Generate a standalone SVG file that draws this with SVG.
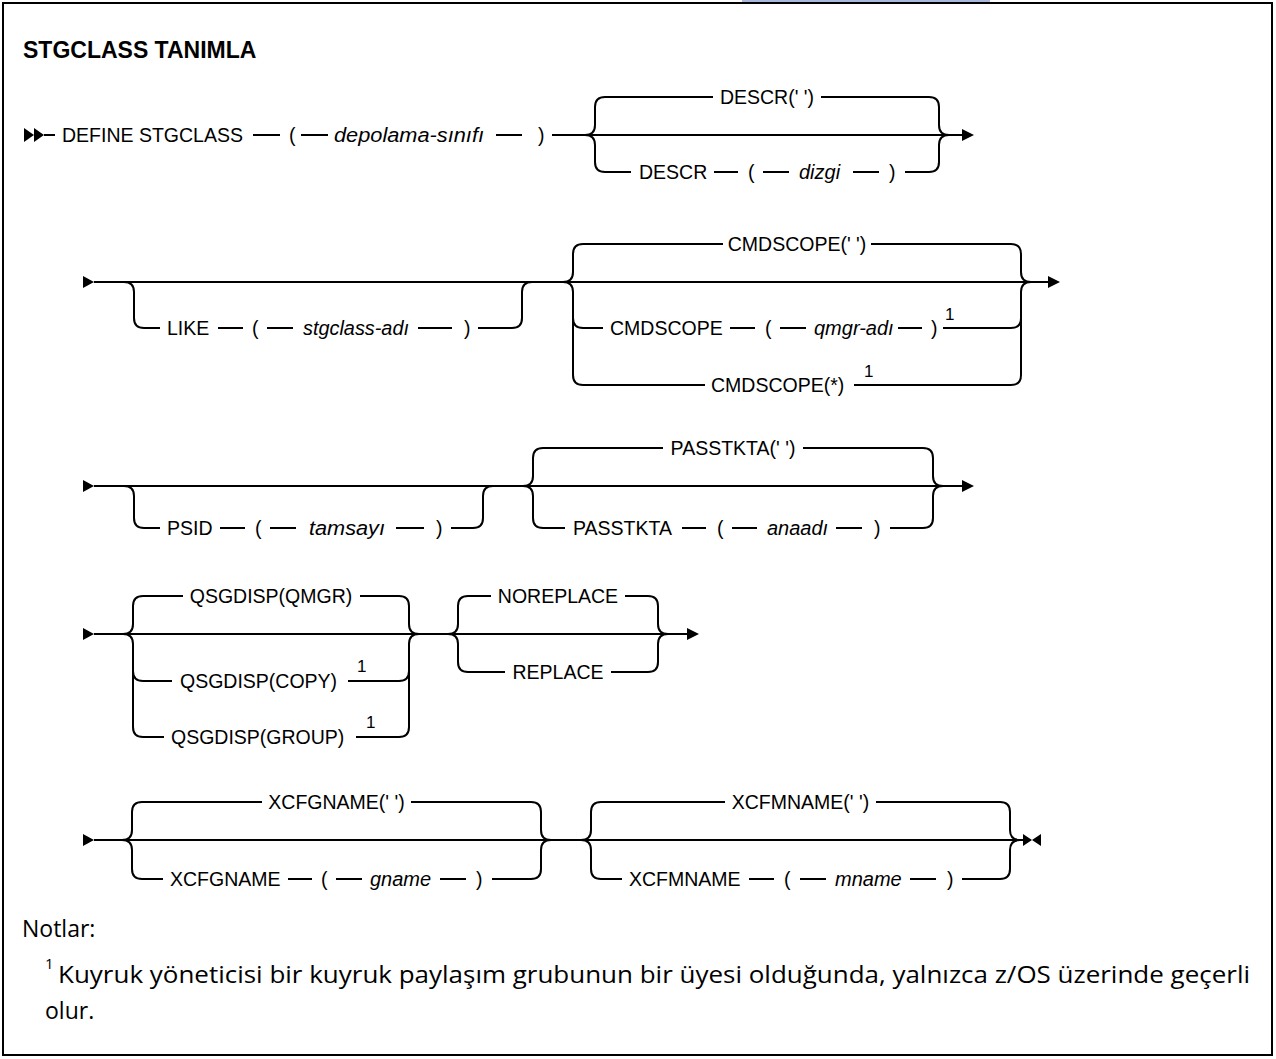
<svg xmlns="http://www.w3.org/2000/svg" width="1276" height="1059" viewBox="0 0 1276 1059">
<style>
.ln{fill:none;stroke:#000;stroke-width:2}
.ar{fill:#000;stroke:none}
.t{font-family:"Liberation Sans",Arial,sans-serif;font-size:19.5px;fill:#000}
.it{font-style:italic;font-size:20px}
.s{font-size:17px}
.c{text-anchor:middle}
.n{font-family:"Open Sans","Liberation Sans",Arial,sans-serif;font-size:23px;fill:#000}
.h{font-family:"Liberation Sans",Arial,sans-serif;font-size:23px;font-weight:bold;fill:#000}
</style>
<rect x="0" y="0" width="1276" height="1059" fill="#fff"/>
<rect x="742" y="0" width="248" height="2" fill="#a9b9dc"/>
<rect x="3" y="3" width="1269" height="1052" fill="none" stroke="#000" stroke-width="2"/>
<g id="title"><text class="h" x="23" y="58">STGCLASS TANIMLA</text></g>

<g id="connectors">
<!-- row 1 -->
<polygon class="ar" points="24,128 34,135 24,142"/>
<polygon class="ar" points="34,128 44,135 34,142"/>
<path class="ln" d="M44 135H55M253 135H280M301 135H328M496 135H522M552 135H962"/>
<polygon class="ar" points="962,129 974,135 962,141"/>
<path class="ln" d="M585 135Q595 135 595 125V107Q595 97 605 97H713M821 97H929Q939 97 939 107V125Q939 135 949 135"/>
<path class="ln" d="M585 135Q595 135 595 145V162Q595 172 605 172H631M714 172H738M763 172H789M853 172H879M905 172H929Q939 172 939 162V145Q939 135 949 135"/>
<!-- row 2 -->
<polygon class="ar" points="83,276 94,282 83,288"/>
<path class="ln" d="M94 282H1048"/>
<polygon class="ar" points="1048,276 1060,282 1048,288"/>
<path class="ln" d="M124 282Q134 282 134 292V318Q134 328 144 328H160M218 328H243M267 328H293M418 328H452M478 328H512Q522 328 522 318V292Q522 282 532 282"/>
<path class="ln" d="M563 282Q573 282 573 272V254Q573 244 583 244H723M871 244H1011Q1021 244 1021 254V272Q1021 282 1031 282"/>
<path class="ln" d="M563 282Q573 282 573 292V318Q573 328 583 328H603M730 328H755M780 328H806M898 328H922M943 328H1011Q1021 328 1021 318V292Q1021 282 1031 282"/>
<path class="ln" d="M573 318V375Q573 385 583 385H705M854 385H1011Q1021 385 1021 375V318"/>
<!-- row 3 -->
<polygon class="ar" points="83,480 94,486 83,492"/>
<path class="ln" d="M94 486H962"/>
<polygon class="ar" points="962,480 974,486 962,492"/>
<path class="ln" d="M124 486Q134 486 134 496V518Q134 528 144 528H160M220 528H245M270 528H296M396 528H424M451 528H473Q483 528 483 518V496Q483 486 493 486"/>
<path class="ln" d="M523 486Q533 486 533 476V458Q533 448 543 448H663M803 448H923Q933 448 933 458V476Q933 486 943 486"/>
<path class="ln" d="M523 486Q533 486 533 496V518Q533 528 543 528H565M682 528H706M732 528H757M836 528H862M890 528H923Q933 528 933 518V496Q933 486 943 486"/>
<!-- row 4 -->
<polygon class="ar" points="83,628 94,634 83,640"/>
<path class="ln" d="M94 634H687"/>
<polygon class="ar" points="687,628 699,634 687,640"/>
<path class="ln" d="M123 634Q133 634 133 624V606Q133 596 143 596H183M360 596H399Q409 596 409 606V624Q409 634 419 634"/>
<path class="ln" d="M123 634Q133 634 133 644V671Q133 681 143 681H172M348 681H399Q409 681 409 671V644Q409 634 419 634"/>
<path class="ln" d="M133 671V727Q133 737 143 737H164M356 737H399Q409 737 409 727V671"/>
<path class="ln" d="M448 634Q458 634 458 624V606Q458 596 468 596H491M625 596H648Q658 596 658 606V624Q658 634 668 634"/>
<path class="ln" d="M448 634Q458 634 458 644V662Q458 672 468 672H505M611 672H648Q658 672 658 662V644Q658 634 668 634"/>
<!-- row 5 -->
<polygon class="ar" points="83,834 94,840 83,846"/>
<path class="ln" d="M94 840H1023"/>
<polygon class="ar" points="1023,834 1032,840 1023,846"/>
<polygon class="ar" points="1041,834 1032,840 1041,846"/>
<path class="ln" d="M122 840Q132 840 132 830V812Q132 802 142 802H262M411 802H531Q541 802 541 812V830Q541 840 551 840"/>
<path class="ln" d="M122 840Q132 840 132 850V869Q132 879 142 879H163M288 879H312M336 879H362M440 879H466M492 879H531Q541 879 541 869V850Q541 840 551 840"/>
<path class="ln" d="M581 840Q591 840 591 830V812Q591 802 601 802H725M876 802H1000Q1010 802 1010 812V830Q1010 840 1020 840"/>
<path class="ln" d="M581 840Q591 840 591 850V869Q591 879 601 879H622M749 879H774M800 879H826M910 879H936M962 879H1000Q1010 879 1010 869V850Q1010 840 1020 840"/>
</g>

<g id="row1">
<g id="n-define"><text class="t" x="62" y="142">DEFINE STGCLASS</text></g>
<g id="n-lp1"><text class="t" x="289" y="142">(</text></g>
<g id="n-depolama"><text class="t it" x="334" y="142" textLength="150" lengthAdjust="spacingAndGlyphs">depolama-sınıfı</text></g>
<g id="n-rp1"><text class="t" x="538" y="142">)</text></g>
<g id="n-descr-def"><text class="t c" x="767" y="104">DESCR(' ')</text></g>
<g id="n-descr"><text class="t" x="639" y="179">DESCR</text></g>
<g id="n-lp2"><text class="t" x="748" y="179">(</text></g>
<g id="n-dizgi"><text class="t it" x="799" y="179">dizgi</text></g>
<g id="n-rp2"><text class="t" x="889" y="179">)</text></g>
</g>

<g id="row2">
<g id="n-like"><text class="t" x="167" y="335">LIKE</text></g>
<g id="n-lp3"><text class="t" x="252" y="335">(</text></g>
<g id="n-stgclass"><text class="t it" x="303" y="335" textLength="106" lengthAdjust="spacingAndGlyphs">stgclass-adı</text></g>
<g id="n-rp3"><text class="t" x="464" y="335">)</text></g>
<g id="n-cmd-def"><text class="t c" x="797" y="251">CMDSCOPE(' ')</text></g>
<g id="n-cmd"><text class="t" x="610" y="335">CMDSCOPE</text></g>
<g id="n-lp4"><text class="t" x="765" y="335">(</text></g>
<g id="n-qmgr"><text class="t it" x="814" y="335">qmgr-adı</text></g>
<g id="n-rp4"><text class="t" x="931" y="335">)</text><text class="t s" x="945" y="320">1</text></g>
<g id="n-cmd-star"><text class="t" x="711" y="392">CMDSCOPE(*)</text><text class="t s" x="864" y="377">1</text></g>
</g>

<g id="row3">
<g id="n-psid"><text class="t" x="167" y="535">PSID</text></g>
<g id="n-lp5"><text class="t" x="255" y="535">(</text></g>
<g id="n-tamsayi"><text class="t it" x="309" y="535" textLength="76" lengthAdjust="spacingAndGlyphs">tamsayı</text></g>
<g id="n-rp5"><text class="t" x="436" y="535">)</text></g>
<g id="n-pass-def"><text class="t c" x="733" y="455">PASSTKTA(' ')</text></g>
<g id="n-pass"><text class="t" x="573" y="535">PASSTKTA</text></g>
<g id="n-lp6"><text class="t" x="717" y="535">(</text></g>
<g id="n-anaadi"><text class="t it" x="767" y="535">anaadı</text></g>
<g id="n-rp6"><text class="t" x="874" y="535">)</text></g>
</g>

<g id="row4">
<g id="n-qmgr-disp"><text class="t c" x="271" y="603">QSGDISP(QMGR)</text></g>
<g id="n-copy"><text class="t" x="180" y="688">QSGDISP(COPY)</text><text class="t s" x="357" y="672">1</text></g>
<g id="n-group"><text class="t" x="171" y="744">QSGDISP(GROUP)</text><text class="t s" x="366" y="728">1</text></g>
<g id="n-noreplace"><text class="t c" x="558" y="603">NOREPLACE</text></g>
<g id="n-replace"><text class="t c" x="558" y="679">REPLACE</text></g>
</g>

<g id="row5">
<g id="n-xcfg-def"><text class="t c" x="336.5" y="809">XCFGNAME(' ')</text></g>
<g id="n-xcfg"><text class="t" x="170" y="886">XCFGNAME</text></g>
<g id="n-lp7"><text class="t" x="321" y="886">(</text></g>
<g id="n-gname"><text class="t it" x="370" y="886">gname</text></g>
<g id="n-rp7"><text class="t" x="476" y="886">)</text></g>
<g id="n-xcfm-def"><text class="t c" x="800.5" y="809">XCFMNAME(' ')</text></g>
<g id="n-xcfm"><text class="t" x="629" y="886">XCFMNAME</text></g>
<g id="n-lp8"><text class="t" x="784" y="886">(</text></g>
<g id="n-mname"><text class="t it" x="835" y="886">mname</text></g>
<g id="n-rp8"><text class="t" x="947" y="886">)</text></g>
</g>

<g id="notes">
<text class="n" x="22" y="937">Notlar:</text>
<text class="n" x="45" y="969" style="font-size:15px">1</text>
<text class="n" x="58" y="983" textLength="1192" lengthAdjust="spacingAndGlyphs">Kuyruk yöneticisi bir kuyruk paylaşım grubunun bir üyesi olduğunda, yalnızca z/OS üzerinde geçerli</text>
<text class="n" x="45" y="1019">olur.</text>
</g>
</svg>
